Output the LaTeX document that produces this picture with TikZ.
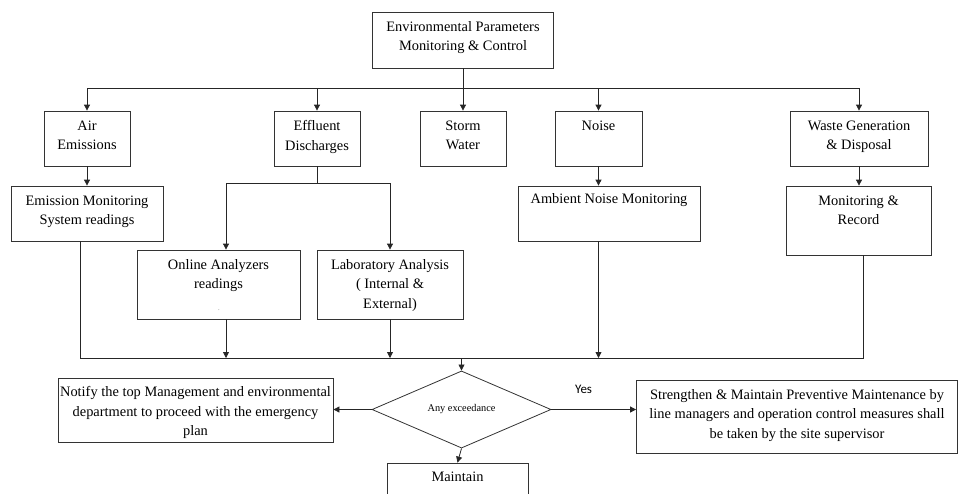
\documentclass[tikz,border=0pt]{standalone}
\usepackage{fontspec}
\setmainfont{Liberation Serif}
\newfontfamily\yesfont{Carlito}
\usetikzlibrary{positioning,shapes.geometric,arrows.meta}
\tikzset{boxnode/.style={rectangle, draw=black!80, line width=0.8pt, inner sep=0pt},
txt/.style={anchor=north, align=center, inner sep=0pt, yshift=-9.5pt, font=\fontsize{14.4}{19.5}\selectfont},
decnode/.style={diamond, draw=black!80, line width=0.8pt, inner sep=0pt, minimum width=179pt, minimum height=53pt, font=\fontsize{10.3}{12}\selectfont},}

\begin{document}
\begin{tikzpicture}[x=1pt, y=-1pt, >={Triangle[length=6pt,width=6pt]}, line width=0.8pt, draw=black!85]
\clip (0,0) rectangle (958,493);
% top level
\node [boxnode, minimum width=181pt, minimum height=56pt, label={[txt]north:Environmental Parameters\\Monitoring \& Control}] (top) at (463,40) {};
\node [boxnode, minimum width=86pt, minimum height=55pt, label={[txt]north:Air\\Emissions}] (air) at (87,138.5) {};
\node [boxnode, minimum width=86pt, minimum height=55pt, label={[txt]north:Effluent\\Discharges}] (eff) at (317,138.5) {};
\node [boxnode, minimum width=86pt, minimum height=55pt, label={[txt]north:Storm\\Water}] (storm) at (463,138.5) {};
\node [boxnode, minimum width=87pt, minimum height=55pt, label={[txt]north:Noise}] (noise) at (598.5,138.5) {};
\node [boxnode, minimum width=138pt, minimum height=55pt, label={[txt]north:Waste Generation\\\& Disposal}] (waste) at (859,138.5) {};
% monitoring
\node [boxnode, minimum width=152pt, minimum height=55pt, label={[txt]north:Emission Monitoring\\System readings}] (ems) at (87,213.5) {};
\node [boxnode, minimum width=182pt, minimum height=55pt, label={[txt, yshift=1.5pt]north:Ambient Noise Monitoring}] (amb) at (609,213.5) {};
\node [boxnode, minimum width=145pt, minimum height=69pt, label={[txt]north:Monitoring \&\\Record}] (rec) at (858.5,220.5) {};
\node [boxnode, minimum width=163pt, minimum height=69pt, label={[txt]north:Online Analyzers\\readings}] (onl) at (218.5,284.5) {};
\node [font=\tiny, inner sep=0pt] (onldot) at (219,310) {.};
\node [boxnode, minimum width=146pt, minimum height=69pt, label={[txt]north:Laboratory Analysis\\( Internal \&\\External)}] (lab) at (390,284.5) {};
% decision
\node [decnode] (dec) at (461.5,409.5) {Any exceedance};
\node [boxnode, minimum width=275pt, minimum height=64pt, label={[txt, yshift=1pt]north:Notify the top Management and environmental\\department to proceed with the emergency\\plan}] (notify) at (195.5,410) {};
\node [boxnode, minimum width=321pt, minimum height=73pt, label={[txt]north:Strengthen \& Maintain Preventive Maintenance by\\line managers and operation control measures shall\\be taken by the site supervisor}] (act) at (797,416.5) {};
\node [boxnode, minimum width=141pt, minimum height=44pt, label={[txt, yshift=1pt]north:Maintain}] (maint) at (457.5,485) {};

% bus lines
\coordinate (t1) at (463,88);
\coordinate (e1) at (317,183);
\coordinate (e2) at (226,183);
\coordinate (e3) at (390,183);
\coordinate (b1) at (80,358);
\coordinate (b2) at (863,358);

\draw (air.north |- t1) -- (waste.north |- t1);
\draw[->] (top) -- (storm);
\draw[->] (air.north |- t1) -- (air.north);
\draw[->] (eff.north |- t1) -- (eff.north);
\draw[->] (noise.north |- t1) -- (noise.north);
\draw[->] (waste.north |- t1) -- (waste.north);
\draw[->] (air) -- (ems);
\draw[->] (noise.south) -- (noise.south |- amb.north);
\draw[->] (waste.south) -- (waste.south |- rec.north);
\draw (eff.south) -- (e1);
\draw (e2) -- (e3);
\draw[->] (e2) -- (e2 |- onl.north);
\draw[->] (e3) -- (lab.north);
\draw (ems.south -| b1) -- (b1) -- (b2) -- (rec.south -| b2);
\draw[->] (e2 |- onl.south) -- (e2 |- b1);
\draw[->] (lab.south) -- (lab.south |- b1);
\draw[->] (noise |- amb.south) -- (noise |- b1);
\draw[->] (dec.north |- b1) -- (dec.north);
\draw[->] (dec.west) -- (notify.east |- dec.west);
\draw[->] (dec.east) -- node[pos=0.38, above=12pt, font=\yesfont\fontsize{13}{15}\selectfont] (yes) {Yes} (dec.east -| act.west);
\draw[->] (dec.south) -- (maint.north);
\end{tikzpicture}
\end{document}
